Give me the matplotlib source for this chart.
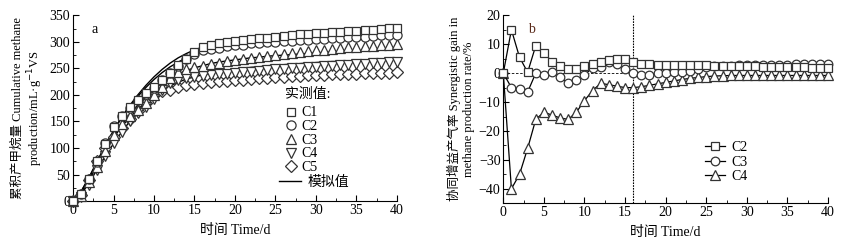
import matplotlib.pyplot as plt
from matplotlib.lines import Line2D
from matplotlib.ticker import MultipleLocator

plt.rcParams['font.family'] = ['Liberation Serif', 'Noto Sans CJK SC']
plt.rcParams['font.size'] = 10
plt.rcParams['axes.unicode_minus'] = True

days = list(range(41))

# panel a: measured cumulative methane production
c1 = [0, 14, 42, 75, 108, 140, 160, 177, 190, 203, 215, 228, 242, 256, 268, 280, 291, 295, 297, 299, 301,
      303, 305, 307, 308, 309, 311, 312, 314, 315, 316, 317, 318, 319, 320, 321, 322, 323, 325, 326, 327]
c2 = [0, 13, 41, 74, 110, 142, 161, 175, 190, 201, 213, 228, 241, 254, 267, 278, 284, 287, 289, 292, 294,
      295, 297, 298, 299, 300, 301, 302, 303, 304, 305, 306, 307, 308, 309, 309, 310, 311, 312, 312, 313]
c3 = [0, 10, 35, 65, 95, 125, 145, 160, 172, 185, 200, 215, 232, 244, 248, 252, 255, 258, 261, 263, 265,
      267, 269, 271, 273, 275, 277, 279, 280, 282, 284, 285, 287, 288, 290, 291, 292, 293, 294, 295, 296]
c4 = [0, 8, 30, 58, 85, 110, 130, 150, 165, 178, 193, 210, 222, 228, 231, 233, 235, 237, 239, 240, 242,
      243, 244, 246, 247, 248, 249, 250, 251, 252, 253, 254, 255, 256, 257, 258, 259, 260, 261, 262, 262]
c5 = [0, 12, 40, 75, 100, 120, 138, 155, 170, 185, 200, 207, 210, 214, 218, 221, 223, 225, 226, 227, 228,
      229, 230, 231, 232, 233, 234, 235, 236, 237, 237, 238, 239, 239, 240, 240, 241, 241, 242, 242, 243]

# panel a: simulated curves
fit1 = [0, 18, 45, 75, 105, 133, 158, 180, 200, 218, 234, 248, 260, 270, 278, 285, 290, 294, 297, 300, 302,
        304, 306, 308, 310, 311, 313, 314, 316, 317, 318, 319, 320, 321, 322, 323, 324, 325, 326, 327, 327]
fit2 = [0, 18, 45, 75, 105, 132, 157, 178, 197, 214, 229, 242, 253, 262, 270, 276, 281, 285, 288, 291, 293,
        295, 297, 298, 300, 301, 302, 303, 304, 305, 306, 307, 308, 308, 309, 310, 310, 311, 311, 312, 312]
fit3 = [0, 15, 40, 67, 95, 120, 143, 163, 181, 197, 211, 222, 232, 240, 246, 251, 255, 259, 262, 264, 266,
        268, 270, 271, 273, 274, 275, 276, 277, 278, 279, 280, 281, 282, 283, 283, 284, 285, 285, 286, 287]
fit4 = [0, 12, 35, 60, 85, 108, 130, 150, 168, 183, 197, 208, 217, 224, 230, 234, 238, 241, 244, 246, 248,
        250, 252, 253, 255, 256, 257, 258, 259, 260, 261, 262, 263, 263, 264, 265, 265, 266, 266, 267, 268]
fit5 = [0, 15, 42, 70, 96, 120, 140, 158, 173, 186, 197, 205, 211, 216, 220, 223, 225, 227, 229, 230, 231,
        232, 233, 234, 234, 235, 235, 236, 236, 237, 237, 237, 238, 238, 238, 239, 239, 239, 239, 240, 240]

# panel b: synergistic gain
g2 = [0, 15, 5.5, 0.3, 9.5, 7, 4, 2.3, 1.5, 1.3, 2.3, 3, 3.8, 4.5, 5, 5, 4, 3.3, 3, 2.8, 2.8,
      2.8, 2.8, 2.8, 2.8, 2.7, 2.6, 2.5, 2.4, 2.4, 2.3, 2.3, 2.2, 2.2, 2.1, 2.1, 2.0, 2.0, 1.9, 1.9, 1.8]
g3 = [0, -5, -5.5, -6.5, 0, -0.5, 0.5, -1.5, -3.5, -2.5, -0.5, 1.8, 2, 4, 3.2, 1.5, 0, -0.5, -0.5, 0, 0.2,
      0.3, 0.5, 0.7, 1.5, 2.2, 2.3, 2.5, 2.6, 2.8, 2.8, 2.8, 2.8, 2.9, 2.9, 2.9, 3, 3, 3, 3, 3]
g4 = [0, -40, -35, -26, -16, -13.5, -14.5, -15.5, -16, -13.5, -9.5, -6, -3.5, -4, -4.5, -5, -5, -4.7, -4.2, -3.7, -3.2,
      -2.7, -2.2, -1.8, -1.5, -1.2, -1, -0.9, -0.8, -0.8, -0.8, -0.8, -0.8, -0.8, -0.8, -0.8, -0.8, -0.8, -0.8, -0.8, -0.8]

fig = plt.figure(figsize=(8.48, 2.47), dpi=100)
ax1 = fig.add_axes([0.0861, 0.186, 0.382, 0.752])
ax2 = fig.add_axes([0.5935, 0.177, 0.383, 0.761])

edge = '#333333'
mk = dict(linestyle='none', markerfacecolor='white', markeredgecolor=edge, markeredgewidth=0.9)

for ax in (ax1, ax2):
    for s in ('top', 'right'):
        ax.spines[s].set_visible(False)
    ax.tick_params(which='both', direction='in', labelsize=10, pad=2)
    ax.tick_params(which='major', length=4)
    ax.tick_params(which='minor', length=2)
    ax.set_xlim(0, 40)
    ax.xaxis.set_major_locator(MultipleLocator(5))
    ax.xaxis.set_minor_locator(MultipleLocator(2.5))
    ax.set_xlabel('时间 Time/d', fontsize=10, labelpad=5)

# ---- panel a
for fit in (fit1, fit2, fit3, fit4, fit5):
    ax1.plot(days, fit, color='black', linewidth=1.0, zorder=2)
for vals, m, s in ((c5, 'D', 5.8), (c4, 'v', 7.2), (c3, '^', 7.2), (c2, 'o', 6.6), (c1, 's', 6.3)):
    ax1.plot(days, vals, marker=m, markersize=s, zorder=3, clip_on=False, **mk)

ax1.set_ylim(0, 350)
ax1.yaxis.set_major_locator(MultipleLocator(50))
ax1.yaxis.set_minor_locator(MultipleLocator(25))
ax1.set_ylabel('累积产甲烷量 Cumulative methane\nproduction/mL·g$^{-1}$VS', fontsize=9, linespacing=1.15, labelpad=3)
ax1.text(0.058, 0.96, 'a', transform=ax1.transAxes, fontsize=10, va='top')

h = [Line2D([], [], marker=m, markersize=s, **mk) for m, s in
     (('s', 6.3), ('o', 6.6), ('^', 7.2), ('v', 7.2), ('D', 5.8))]
leg1 = ax1.legend(h, ['C1', 'C2', 'C3', 'C4', 'C5'], title='实测值:', frameon=False,
                  loc='upper left', bbox_to_anchor=(0.655, 0.61), fontsize=10, title_fontsize=10,
                  handlelength=0.8, handletextpad=0.4, labelspacing=0.05, borderpad=0, borderaxespad=0)
leg1._legend_box.align = 'left'
leg1._legend_box.sep = 4
ax1.add_artist(leg1)
ax1.legend([Line2D([], [], color='black', linewidth=1.0)], ['模拟值'], frameon=False,
           loc='upper left', bbox_to_anchor=(0.635, 0.135), fontsize=10,
           handlelength=1.6, handletextpad=0.5, borderpad=0, borderaxespad=0)

# ---- panel b
ax2.axvline(16, color='black', linestyle=(0, (1.5, 1)), linewidth=0.8, zorder=1)
ax2.plot([0, 16], [0, 0], color='black', linestyle=(0, (3, 2)), linewidth=0.6, zorder=1)
lk = dict(color='black', linewidth=0.9, markerfacecolor='white', markeredgecolor=edge,
          markeredgewidth=0.9, clip_on=False)
ax2.plot(days, g4, marker='^', markersize=6.8, label='C4', zorder=3, **lk)
ax2.plot(days, g3, marker='o', markersize=6.2, label='C3', zorder=3, **lk)
ax2.plot(days, g2, marker='s', markersize=6.0, label='C2', zorder=3, **lk)

ax2.set_ylim(-45, 20)
ax2.yaxis.set_major_locator(MultipleLocator(10))
ax2.yaxis.set_minor_locator(MultipleLocator(5))
ax2.set_ylabel('协同增益产气率 Synergistic gain in\nmethane production rate/%', fontsize=9, linespacing=1.15, labelpad=3)
ax2.text(0.075, 0.96, 'b', transform=ax2.transAxes, fontsize=10, va='top', color='#5a2a1a')

hh, ll = ax2.get_legend_handles_labels()
ax2.legend(hh[::-1], ll[::-1], frameon=False, loc='upper left', bbox_to_anchor=(0.62, 0.33),
           fontsize=10, handlelength=1.5, handletextpad=0.4, labelspacing=0.1, borderpad=0, borderaxespad=0)

fig.savefig('out.png', dpi=100)
